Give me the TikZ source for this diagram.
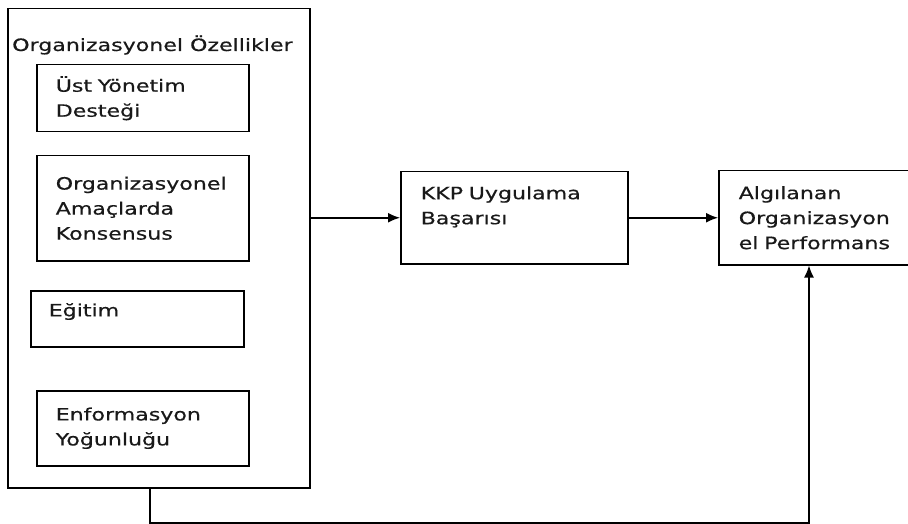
\documentclass[tikz,border=0pt]{standalone}
\usepackage{fontspec}
\setmainfont[FakeStretch=1.3,FakeBold=0.5]{DejaVu Sans}
\usepackage{tikz}
\usetikzlibrary{arrows.meta}

\tikzset{
	kutu/.style={draw, line width=1.5pt, rectangle, anchor=north west, align=left,
		inner xsep=19pt, inner ysep=0pt, font=\fontsize{17pt}{25pt}\selectfont,
		text=black!90},
	ok/.style={line width=1.5pt, -{Latex[length=12pt,width=10pt]}},
}

\begin{document}
\begin{tikzpicture}[x=1pt,y=-1pt]
	\useasboundingbox (0,0) rectangle (908,524);
	% dis kutu: organizasyonel ozellikler
	\node[kutu, minimum width=302pt, minimum height=479pt] (org) at (7,8) {};
	\node[anchor=west, inner sep=0pt, font=\fontsize{17pt}{25pt}\selectfont, text=black!90]
		(baslik) at (12,45) {Organizasyonel Özellikler};
	\node[kutu, text width=174pt, minimum height=67pt] (ust) at (36,64) {Üst Yönetim\\Desteği};
	\node[kutu, text width=174pt, minimum height=105pt] (amac) at (36,155)
		{Organizasyonel\\Amaçlarda\\Konsensus};
	\node[kutu, inner xsep=18pt, text width=177pt, minimum height=56pt] (egitim) at (30,290)
		{Eğitim\\[-7pt]~};
	\node[kutu, text width=174pt, minimum height=75pt] (enf) at (36,390)
		{Enformasyon\\Yoğunluğu};
	% sag taraf
	\node[kutu, inner xsep=20pt, text width=187pt, minimum height=92pt] (kkp) at (400,171)
		{KKP Uygulama\\Başarısı\\~};
	\node[kutu, inner xsep=20pt, text width=154pt, minimum height=94pt] (alg) at (718,170)
		{Algılanan\\Organizasyon\\el Performans};
	% baglantilar
	\draw[ok] (org.east |- kkp.west) -- (kkp.west);
	\draw[ok] (kkp.east) -- (kkp.east -| alg.west);
	\coordinate (alt) at (809,523);
	\draw[ok] (org.south -| 150,0) |- (alt) -- (alt |- alg.south);
\end{tikzpicture}
\end{document}
